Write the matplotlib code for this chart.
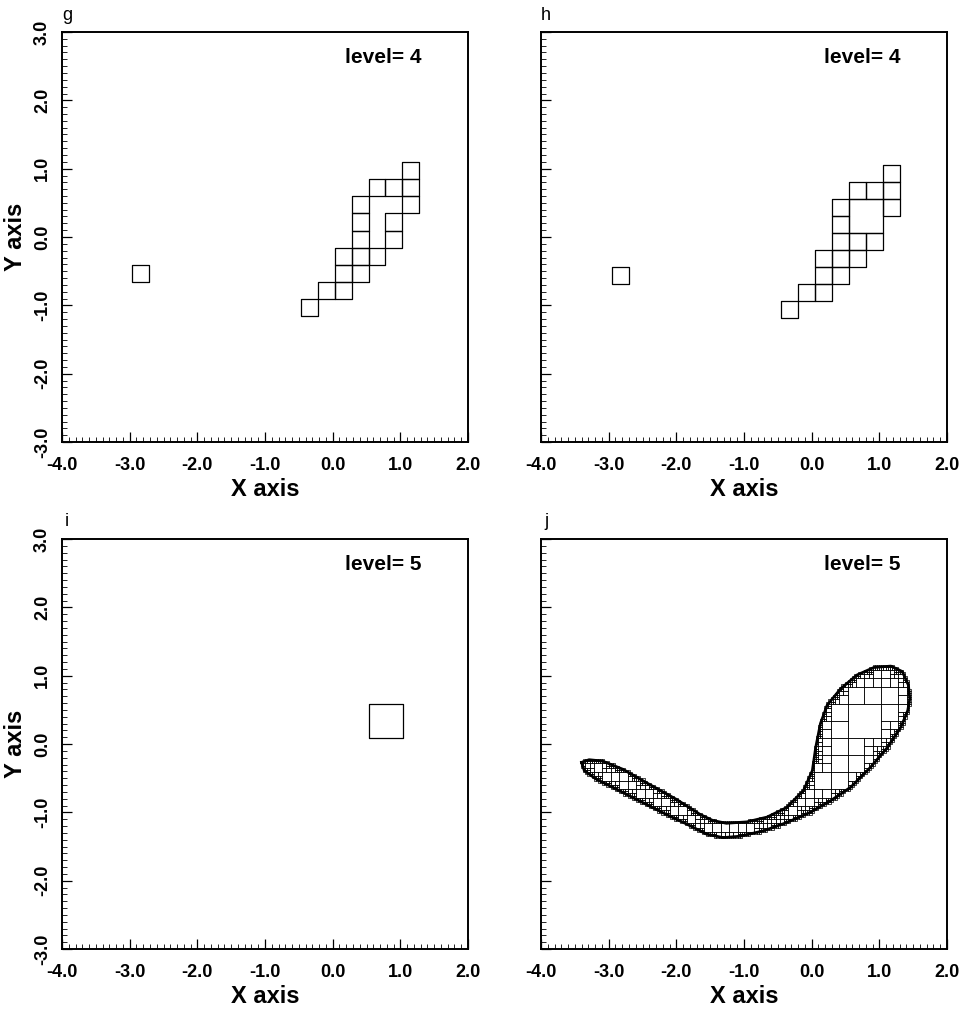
import numpy as np
import matplotlib
matplotlib.use("Agg")
import matplotlib.pyplot as plt
from matplotlib.path import Path
from matplotlib.transforms import Bbox
from matplotlib.patches import Rectangle
from matplotlib.collections import PatchCollection
from matplotlib.ticker import MultipleLocator, FormatStrFormatter

plt.rcParams['font.family'] = ['Liberation Sans', 'DejaVu Sans']

# boxes: lower-left corner and side length
g_x = [1.03, 0.53, 0.78, 1.03, 0.28, 1.03, 0.28, 0.78, 0.28, 0.78,
       0.03, 0.28, 0.53, 0.03, 0.28, -2.97, -0.22, 0.03, -0.47]
g_y = [0.845, 0.595, 0.595, 0.595, 0.345, 0.345, 0.095, 0.095, -0.155, -0.155,
       -0.405, -0.405, -0.405, -0.655, -0.655, -0.655, -0.905, -0.905, -1.155]
g_s = [0.25] * 19

h_x = [1.05, 0.55, 0.80, 1.05, 0.30, 1.05, 0.55, 0.30, 0.30, 0.55, 0.80,
       0.05, 0.30, 0.55, 0.05, 0.30, -2.95, -0.20, 0.05, -0.45]
h_y = [0.81, 0.56, 0.56, 0.56, 0.31, 0.31, 0.06, 0.06, -0.19, -0.19, -0.19,
       -0.44, -0.44, -0.44, -0.69, -0.69, -0.69, -0.94, -0.94, -1.19]
h_s = [0.25] * 6 + [0.5] + [0.25] * 13

i_x = [0.54]
i_y = [0.09]
i_s = [0.5]

# outline of the region covered in panel j
j_outline_x = [-3.40, -3.29, -3.09, -2.79, -2.40, -2.00, -1.65, -1.46, -1.26, -0.96,
               -0.66, -0.37, -0.12, 0.01, 0.06, 0.13, 0.23, 0.43, 0.67, 0.92,
               1.17, 1.34, 1.43, 1.45, 1.42, 1.32, 1.12, 0.87, 0.58, 0.28,
               -0.02, -0.37, -0.71, -1.06, -1.31, -1.55, -1.85, -2.15, -2.55, -2.89,
               -3.19, -3.36]
j_outline_y = [-0.27, -0.23, -0.25, -0.37, -0.59, -0.81, -1.03, -1.12, -1.16, -1.14,
               -1.07, -0.93, -0.68, -0.39, -0.05, 0.30, 0.57, 0.81, 1.01, 1.12,
               1.14, 1.06, 0.86, 0.66, 0.49, 0.25, -0.05, -0.34, -0.63, -0.83,
               -1.00, -1.15, -1.27, -1.35, -1.37, -1.32, -1.17, -1.03, -0.83, -0.66,
               -0.51, -0.39]
j_origin = (0.53, 0.09)
j_base = 0.5
j_min = 0.5 / 16

levels = ['level= 4', 'level= 4', 'level= 5', 'level= 5']
letters = ['g', 'h', 'i', 'j']


def subdivide(path, x, y, s, out):
    bb = Bbox.from_bounds(x, y, s, s)
    if not path.intersects_bbox(bb, filled=True):
        return
    if s <= j_min + 1e-9 or not path.intersects_bbox(bb, filled=False):
        out.append((x, y, s))
        return
    hs = s / 2
    for dx in (0, hs):
        for dy in (0, hs):
            subdivide(path, x + dx, y + dy, hs, out)


pts = np.column_stack([j_outline_x, j_outline_y])
closed = np.vstack([pts, pts[:1]])
region = Path(closed, closed=True)
j_boxes = []
for bx in np.arange(j_origin[0] - 10 * j_base, 2.0, j_base):
    for by in np.arange(j_origin[1] - 7 * j_base, 3.0, j_base):
        subdivide(region, bx, by, j_base, j_boxes)
j_x = [b[0] for b in j_boxes]
j_y = [b[1] for b in j_boxes]
j_s = [b[2] for b in j_boxes]

panels = [(g_x, g_y, g_s), (h_x, h_y, h_s), (i_x, i_y, i_s), (j_x, j_y, j_s)]

W, H = 970, 1009
fig = plt.figure(figsize=(W / 100, H / 100), dpi=100)

lefts = [62, 541, 62, 541]
tops = [32, 32, 539, 539]
aw, ah = 406, 410

for k, (bx, by, bs) in enumerate(panels):
    ax = fig.add_axes([lefts[k] / W, 1 - (tops[k] + ah) / H, aw / W, ah / H])
    rects = [Rectangle((x, y), s, s) for x, y, s in zip(bx, by, bs)]
    lw = 0.9 if k < 3 else 0.5
    ax.add_collection(PatchCollection(rects, facecolor='none', edgecolor='black', linewidth=lw))
    if k == 3:
        ax.plot(closed[:, 0], closed[:, 1], color='black', lw=2.0)
    ax.set_xlim(-4, 2)
    ax.set_ylim(-3, 3)
    ax.xaxis.set_major_locator(MultipleLocator(1))
    ax.xaxis.set_minor_locator(MultipleLocator(0.1))
    ax.yaxis.set_major_locator(MultipleLocator(1))
    ax.yaxis.set_minor_locator(MultipleLocator(0.1))
    ax.xaxis.set_major_formatter(FormatStrFormatter('%.1f'))
    ax.yaxis.set_major_formatter(FormatStrFormatter('%.1f'))
    ax.tick_params(which='major', direction='in', length=7, width=0.9, top=False, right=False)
    ax.tick_params(which='minor', direction='in', length=3.5, width=0.6, top=False, right=False)
    ax.tick_params(axis='x', pad=11, labelsize=13)
    ax.tick_params(axis='y', pad=8, labelsize=13)
    for lab in ax.get_xticklabels():
        lab.set_fontweight('bold')
    for lab in ax.get_yticklabels():
        lab.set_fontweight('bold')
        lab.set_rotation(90)
        lab.set_va('center')
    for sp in ax.spines.values():
        sp.set_linewidth(1.4)
    ax.set_xlabel('X axis', fontsize=17, fontweight='bold', labelpad=3)
    if k % 2 == 0:
        ax.set_ylabel('Y axis', fontsize=17, fontweight='bold', labelpad=5)
    else:
        ax.tick_params(axis='y', labelleft=False)
    ax.text(0.75, 2.62, levels[k], ha='center', va='center', fontsize=15, fontweight='bold')
    fig.text((lefts[k] + 5) / W, 1 - (tops[k] - 17) / H, letters[k], ha='center', va='center', fontsize=13)

fig.savefig('out.png', dpi=100)
